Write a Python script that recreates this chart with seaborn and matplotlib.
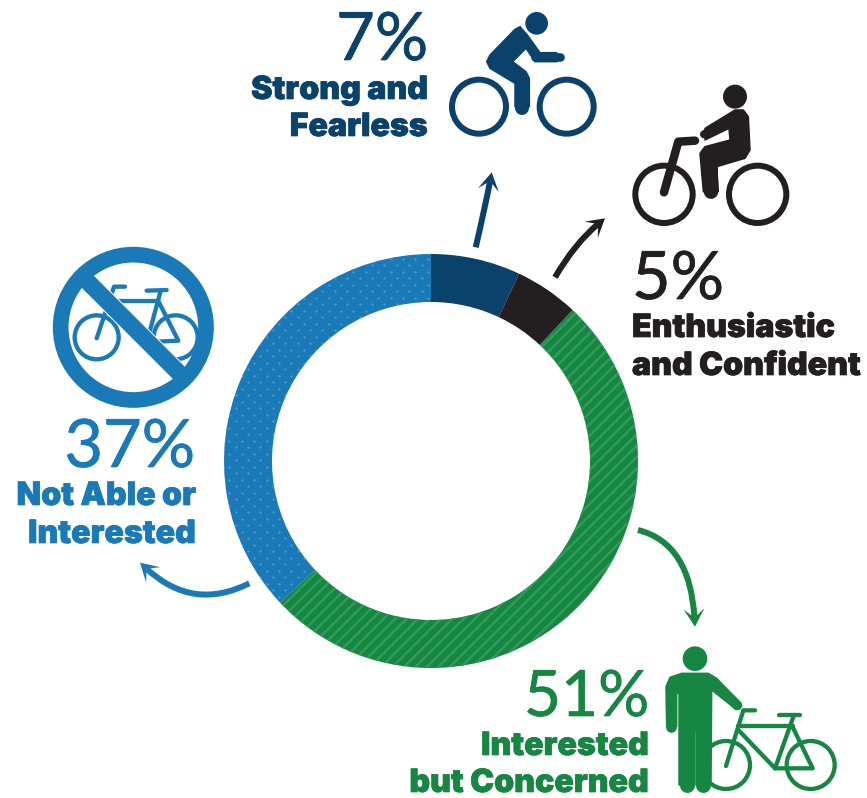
import numpy as np
import matplotlib
matplotlib.use("Agg")
import matplotlib.pyplot as plt
from matplotlib.patches import Circle, Polygon, PathPatch
from matplotlib.path import Path
import matplotlib.patheffects as pe
import seaborn as sns

# Survey shares, clockwise from twelve o'clock
categories = ["Strong and Fearless", "Enthusiastic and Confident",
              "Interested but Concerned", "Not Able or Interested"]
shares = [7, 5, 51, 37]
share_labels = ["7%", "5%", "51%", "37%"]
colors = ["#0B426B", "#231F20", "#178642", "#1A7AB8"]
stripe_color = "#2E9B58"
dot_color = "#4E9BD0"

W, H = 867, 798
sns.set_theme(style="white")
plt.rcParams["font.family"] = ["Lato", "DejaVu Sans"]

fig = plt.figure(figsize=(W / 100, H / 100), dpi=100, facecolor="white")
ax = fig.add_axes([0, 0, 1, 1])
px = 72 / 100  # points per pixel


def Y(y):
    return H - y


CX, CY, R_OUT, R_IN = 431, 461, 207, 159

wedges, _ = ax.pie(
    shares, colors=colors, startangle=90, counterclock=False,
    radius=R_OUT, center=(CX, Y(CY)), frame=True,
    wedgeprops=dict(width=R_OUT - R_IN, linewidth=0),
)
ax.set_xlim(0, W)
ax.set_ylim(0, H)
ax.set_aspect("equal")
ax.axis("off")

# Diagonal stripe texture on the green segment
for off in np.arange(-900, 900, 11.4):
    line, = ax.plot([0, W], [off, off + W], color=stripe_color, lw=2.6 * px, zorder=2,
                    solid_capstyle="butt")
    line.set_clip_path(wedges[2])

# Staggered dot texture on the blue segment
gy = np.arange(0, H, 6.5)
xs, ys = [], []
for i, yy in enumerate(gy):
    gx = np.arange(0 + (i % 2) * 6.2, W, 12.4)
    xs.extend(gx)
    ys.extend([yy] * len(gx))
dots = ax.scatter(xs, ys, s=2.6, color=dot_color, linewidths=0, zorder=2)
dots.set_clip_path(wedges[3])


def to_px(points, origin):
    return [(origin[0] + x / 3, Y(origin[1] + y / 3)) for x, y in points]


def blob(points, origin, color, z=5):
    ax.add_patch(Polygon(to_px(points, origin), closed=True, fc=color, ec=color,
                         lw=1.5 * px, joinstyle="round", zorder=z))


def stroke(points, origin, color, width, z=5):
    p = np.array(to_px(points, origin))
    ax.plot(p[:, 0], p[:, 1], color=color, lw=width * px, solid_capstyle="round",
            solid_joinstyle="round", zorder=z)


def disc(c, r, origin, color, z=5):
    x, y = to_px([c], origin)[0]
    ax.add_patch(Circle((x, y), r / 3, fc=color, ec="none", zorder=z))


def ring(c, r, width, origin, color, z=5):
    x, y = to_px([c], origin)[0]
    ax.add_patch(Circle((x, y), r / 3, fc="none", ec=color, lw=width * px, zorder=z))


# Strong and Fearless rider
o = (440, 0)
c = colors[0]
disc((290, 70), 34, o, c)
ring((117, 320), 81, 6, o, c)
ring((380, 320), 81, 6, o, c)
blob([(240, 80), (262, 105), (300, 158), (350, 158), (350, 185), (285, 185),
      (258, 145), (218, 185), (258, 215), (268, 235), (268, 320), (225, 320),
      (225, 250), (150, 205), (140, 185), (150, 165), (225, 88)], o, c)
stroke([(285, 172), (360, 172)], o, c, 8.7)
stroke([(247, 240), (247, 325)], o, c, 14)

# Enthusiastic and Confident rider
o = (620, 75)
c = colors[1]
disc((345, 65), 36, o, c)
ring((132, 358), 86, 6, o, c)
ring((413, 358), 86, 6, o, c)
stroke([(132, 352), (175, 200), (225, 197)], o, c, 8.5)
blob([(255, 160), (345, 105), (370, 105), (385, 125), (390, 225), (375, 250), (290, 275),
      (295, 350), (250, 350), (240, 235), (255, 215), (330, 195),
      (327, 160), (255, 195)], o, c)
stroke([(252, 178), (340, 128)], o, c, 8)
stroke([(272, 280), (273, 350)], o, c, 14.5)

# Interested but Concerned person with a bicycle
o = (640, 630)
c = colors[2]
ring((258, 405), 72, 4.3, o, c, z=4)
ring((512, 405), 72, 4.3, o, c, z=4)
stroke([(345, 241), (310, 241), (258, 408)], o, c, 4.3, z=4)
stroke([(295, 287), (460, 287)], o, c, 4.3, z=4)
stroke([(295, 300), (405, 415), (518, 415), (455, 285)], o, c, 4.3, z=4)
stroke([(405, 415), (462, 255)], o, c, 4.3, z=4)
stroke([(418, 254), (480, 254)], o, c, 4.3, z=4)
disc((165, 86), 37, o, c)
blob([(78, 170), (90, 142), (125, 130), (205, 130), (230, 145), (300, 220),
      (288, 238), (215, 180), (213, 465), (168, 465),
      (168, 305), (163, 305), (163, 465), (117, 465),
      (117, 190), (110, 190), (110, 290), (80, 290)], o, c)
stroke([(94, 170), (94, 290)], o, c, 10.7)
stroke([(140, 300), (140, 465)], o, c, 15)
stroke([(190, 300), (190, 465)], o, c, 15)
stroke([(225, 160), (292, 226)], o, c, 10)

# Not Able or Interested crossed-out bicycle
o = (40, 240)
c = colors[3]
ring((170, 292), 66, 4.3, o, c, z=4)
ring((407, 292), 66, 4.3, o, c, z=4)
stroke([(255, 140), (222, 140), (170, 295)], o, c, 4.3, z=4)
stroke([(215, 183), (355, 183)], o, c, 4.3, z=4)
stroke([(225, 190), (350, 305), (415, 302), (355, 183)], o, c, 4.3, z=4)
stroke([(325, 290), (362, 152)], o, c, 4.3, z=4)
stroke([(320, 152), (380, 150)], o, c, 4.3, z=4)
bar = np.array(to_px([(126, 108), (434, 416)], o))
ax.plot(bar[:, 0], bar[:, 1], color="white", lw=19 * px, zorder=4.5, solid_capstyle="butt")
ax.plot(bar[:, 0], bar[:, 1], color=c, lw=17 * px, zorder=5, solid_capstyle="butt")
ring((280, 262), 218, 15.7, o, c)


def arrow(start, ctrl, tip, color, width=6, half=10.5, back=18, notch=9):
    """Curved shaft ending in a notched arrow head aligned with its last segment."""
    s, k, t = (np.array(p, float) for p in (start, ctrl, tip))
    d = (t - k) / np.linalg.norm(t - k)
    n = np.array([-d[1], d[0]])
    end = t - d * notch
    verts = [(s[0], Y(s[1])), (k[0], Y(k[1])), (end[0], Y(end[1]))]
    ax.add_patch(PathPatch(Path(verts, [Path.MOVETO, Path.CURVE3, Path.CURVE3]),
                           fc="none", ec=color, lw=width * px, capstyle="butt", zorder=6))
    head = [t, t - d * back + n * half, t - d * notch, t - d * back - n * half]
    ax.add_patch(Polygon([(x, Y(y)) for x, y in head], closed=True, fc=color, ec="none", zorder=6))


arrow((475.7, 247.3), (486, 203), (491.7, 172.3), colors[0])
arrow((555, 277.3), (575, 243), (605, 218.3), colors[1])
arrow((638, 530), (690, 543), (695, 626.7), colors[2])
arrow((249.3, 583.3), (193.3, 611.7), (140, 562.7), colors[3])

PCT = dict(fontsize=48, family=["Lato"], fontweight="regular", va="baseline", zorder=7)
LBL = dict(fontsize=23.1, family=["Inter", "Lato"], fontweight="black", va="baseline", zorder=7)


def label(x, y, s, color, ha, style, size=None):
    t = ax.text(x, Y(y), s, color=color, ha=ha, **style)
    if size:
        t.set_fontsize(size)
    t.set_path_effects([pe.withStroke(linewidth=0.5, foreground=color)])


label(428, 60, share_labels[0], colors[0], "right", PCT)
label(428, 99, "Strong and", colors[0], "right", LBL)
label(428, 136, "Fearless", colors[0], "right", LBL)

label(632, 299, share_labels[1], colors[1], "left", PCT)
label(632, 337, "Enthusiastic", colors[1], "left", LBL)
label(632, 375, "and Confident", colors[1], "left", LBL)

label(649, 716, share_labels[2], colors[2], "right", PCT, size=46)
label(649, 755, "Interested", colors[2], "right", LBL)
label(649, 792, "but Concerned", colors[2], "right", LBL)

label(195, 467, share_labels[3], colors[3], "right", PCT)
label(196, 505, "Not Able or", colors[3], "right", LBL)
label(196, 543, "Interested", colors[3], "right", LBL)

fig.savefig("out.png", dpi=100, facecolor="white")
